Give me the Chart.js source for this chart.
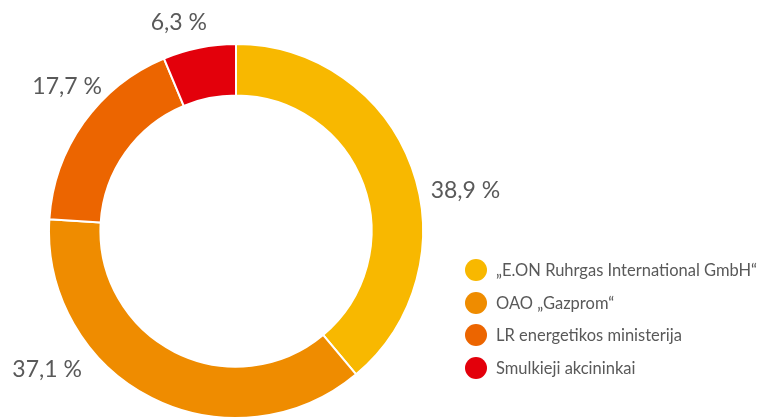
<!DOCTYPE html>
<html>
<head>
<meta charset="utf-8">
<script src="https://cdn.jsdelivr.net/npm/chart.js@4.4.1/dist/chart.umd.min.js"></script>
<style>
  html, body { margin: 0; padding: 0; background: #fff; }
  .wrap { position: relative; width: 763px; height: 419px; overflow: hidden; }
  #legend { position: absolute; left: 465px; top: 254px; list-style: none; margin: 0; padding: 0;
    font-family: Lato, sans-serif; font-size: 16.5px; color: #595959; }
  #legend li { display: flex; align-items: center; height: 32.5px; white-space: nowrap; }
  #legend .dot { width: 22px; height: 22px; border-radius: 50%; margin-right: 9px; flex: none; }
</style>
</head>
<body>
<div class="wrap">
  <canvas id="chart" width="763" height="419"></canvas>
  <ul id="legend"></ul>
</div>
<script>
const labels = ["„E.ON Ruhrgas International GmbH“", "OAO „Gazprom“", "LR energetikos ministerija", "Smulkieji akcininkai"];
const shares = [38.9, 37.1, 17.7, 6.3];
const colors = ["#F8B800", "#EF8C00", "#EC6500", "#E3000B"];

// percent labels outside the ring, nudged like the original (degrees, px past the outer edge)
const outsideLabels = {
  id: "outsideLabels",
  afterDatasetsDraw(chart, args, opts) {
    const ctx = chart.ctx;
    const arcs = chart.getDatasetMeta(0).data;
    ctx.save();
    ctx.font = opts.font;
    ctx.fillStyle = opts.color;
    ctx.textAlign = "center";
    ctx.textBaseline = "middle";
    arcs.forEach((arc, i) => {
      const p = arc.getProps(["x", "y", "startAngle", "endAngle", "outerRadius"], true);
      const a = (p.startAngle + p.endAngle) / 2 + opts.shift[i] * Math.PI / 180;
      const r = p.outerRadius + opts.gap[i];
      const txt = shares[i].toFixed(1).replace(".", ",") + " %";
      ctx.fillText(txt, p.x + Math.cos(a) * r, p.y + Math.sin(a) * r);
    });
    ctx.restore();
  }
};

const chart = new Chart(document.getElementById("chart"), {
  type: "doughnut",
  data: {
    labels: labels,
    datasets: [{
      data: shares,
      backgroundColor: colors,
      borderColor: "#ffffff",
      borderWidth: 2
    }]
  },
  options: {
    responsive: false,
    animation: false,
    cutout: "72.5%",
    layout: { padding: { left: 48, right: 339, top: 43, bottom: 0 } },
    plugins: {
      legend: { display: false },
      tooltip: { enabled: false },
      outsideLabels: {
        font: "23px Lato, sans-serif",
        color: "#595959",
        shift: [10, 27, 5, -4],
        gap: [46, 47, 35, 29]
      }
    }
  },
  plugins: [outsideLabels]
});

// html legend from the chart's own labels
const ul = document.getElementById("legend");
chart.options.plugins.legend.labels.generateLabels(chart).forEach((item) => {
  const li = document.createElement("li");
  const dot = document.createElement("span");
  dot.className = "dot";
  dot.style.background = item.fillStyle;
  li.appendChild(dot);
  li.appendChild(document.createTextNode(item.text));
  ul.appendChild(li);
});
</script>
</body>
</html>
